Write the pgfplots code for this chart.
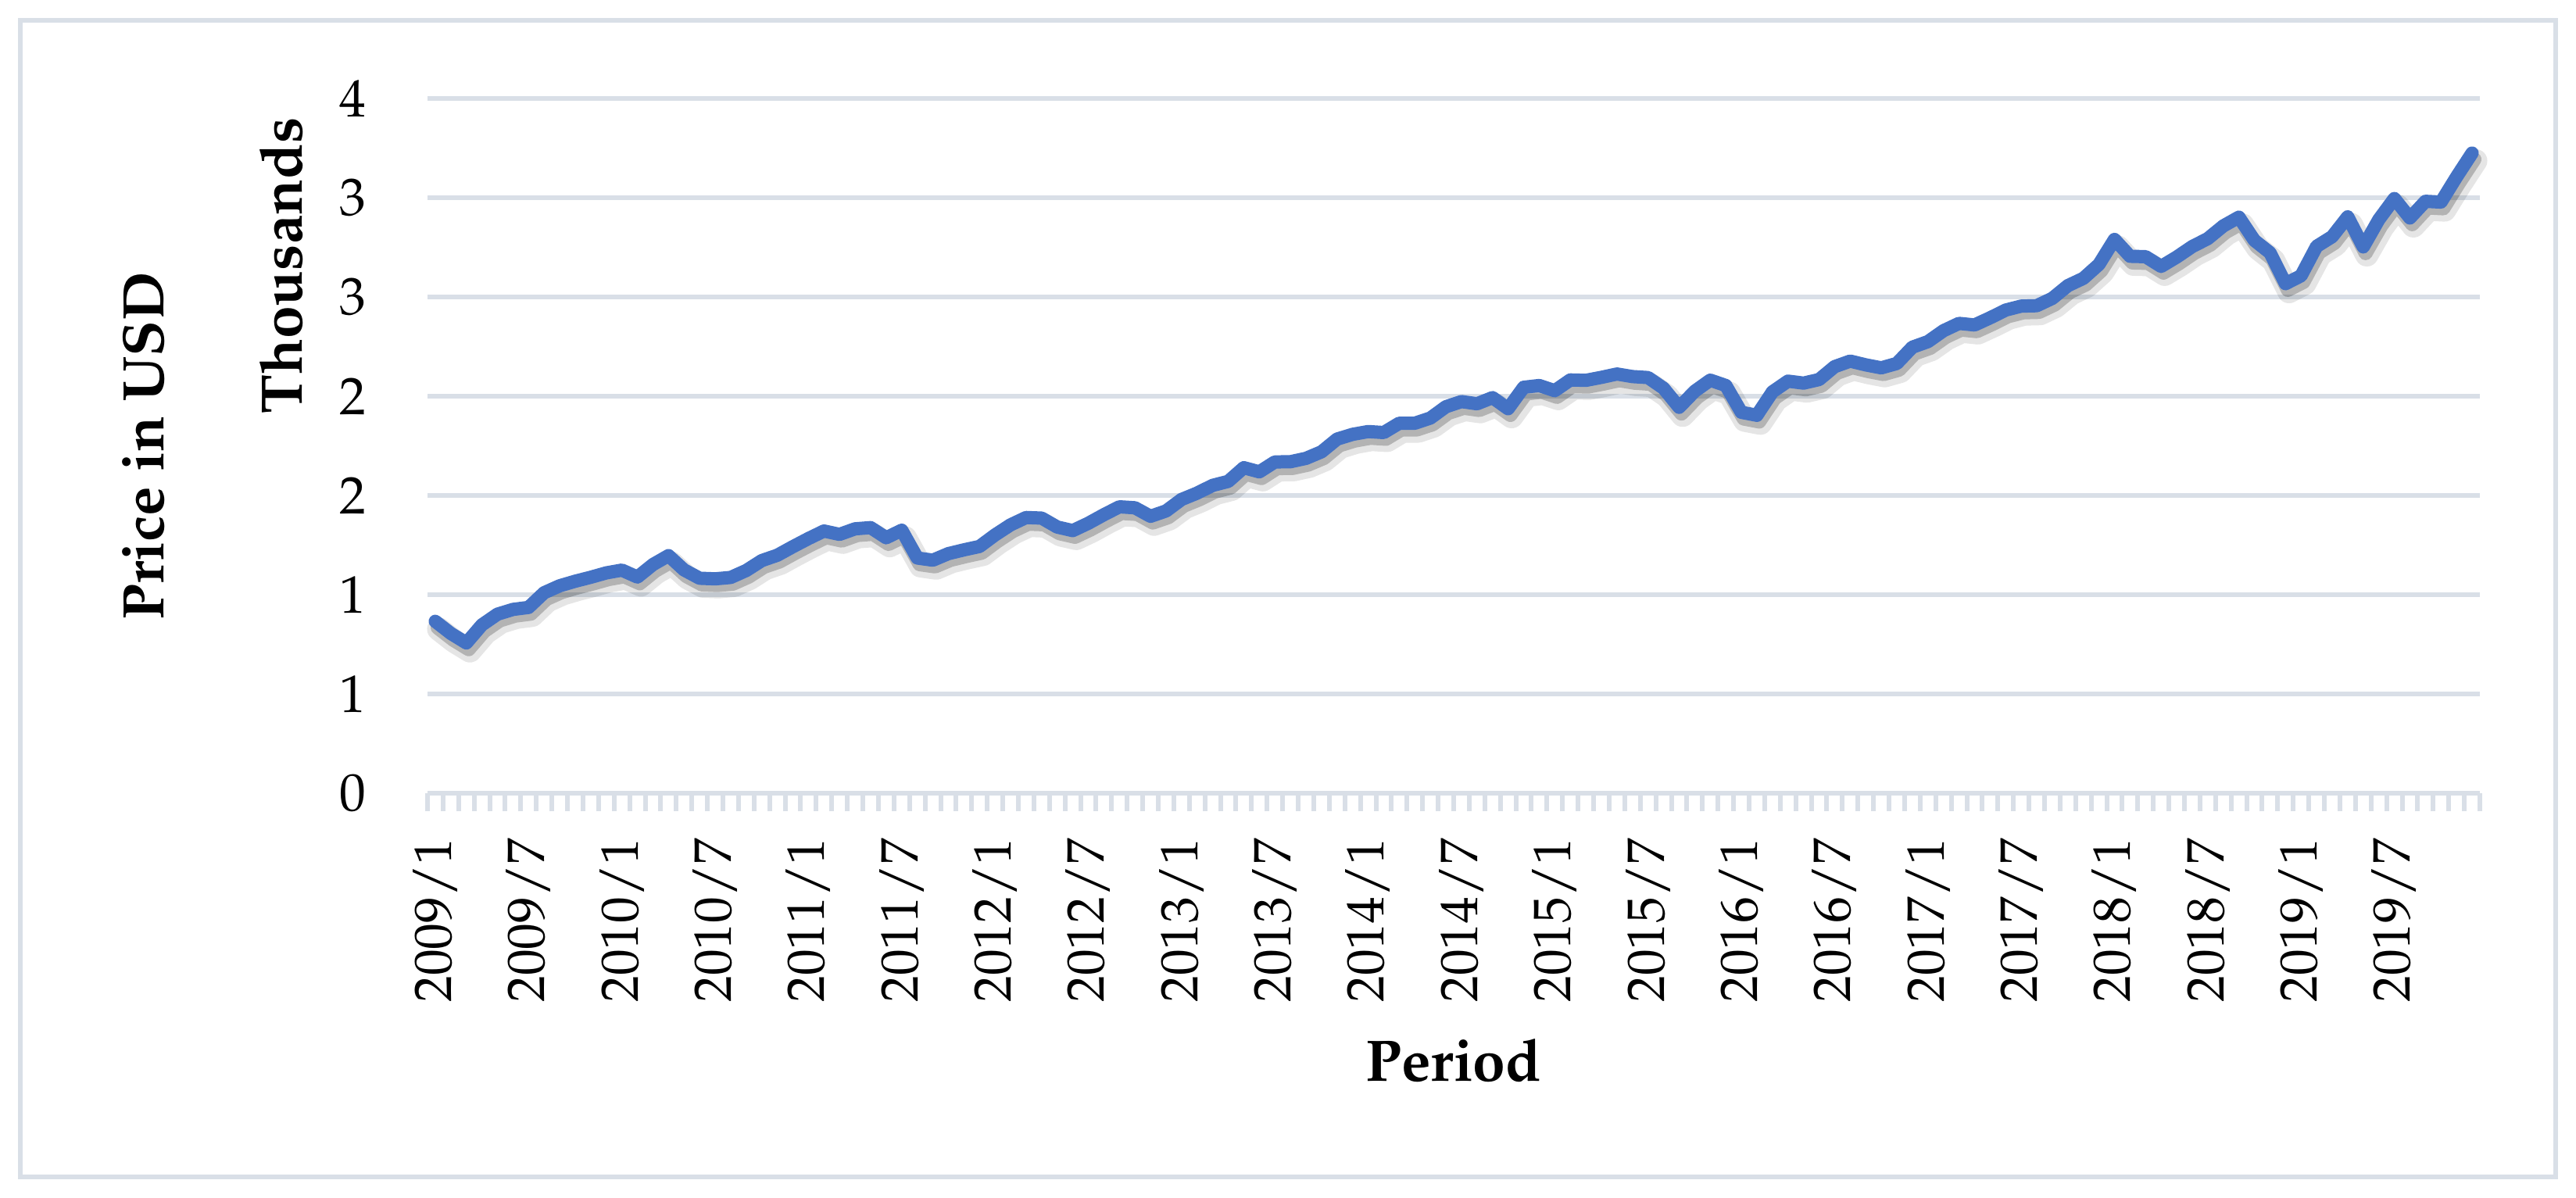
\documentclass[border=0pt]{standalone}
\usepackage[T1]{fontenc}
\usepackage{mathpazo}
\usepackage{pgfplots}
\usepackage{pgfplotstable}
\pgfplotsset{compat=1.18}
\definecolor{gridc}{RGB}{217,223,231}
\definecolor{lineblue}{RGB}{68,114,196}
\pgfplotstableread{
i v
0 0.866
1 0.805
2 0.757
3 0.848
4 0.902
5 0.926
6 0.936
7 1.010
8 1.045
9 1.068
10 1.088
11 1.110
12 1.124
13 1.089
14 1.152
15 1.197
16 1.125
17 1.083
18 1.080
19 1.087
20 1.122
21 1.172
22 1.199
23 1.242
24 1.283
25 1.321
26 1.304
27 1.332
28 1.338
29 1.287
30 1.325
31 1.185
32 1.174
33 1.207
34 1.226
35 1.243
36 1.301
37 1.352
38 1.389
39 1.386
40 1.341
41 1.323
42 1.360
43 1.403
44 1.443
45 1.438
46 1.395
47 1.422
48 1.480
49 1.512
50 1.551
51 1.571
52 1.640
53 1.619
54 1.669
55 1.670
56 1.687
57 1.720
58 1.784
59 1.808
60 1.822
61 1.817
62 1.864
63 1.864
64 1.890
65 1.947
66 1.973
67 1.962
68 1.993
69 1.937
70 2.045
71 2.054
72 2.028
73 2.082
74 2.080
75 2.095
76 2.112
77 2.099
78 2.094
79 2.040
80 1.944
81 2.025
82 2.081
83 2.054
84 1.919
85 1.904
86 2.022
87 2.076
88 2.066
89 2.084
90 2.149
91 2.177
92 2.158
93 2.143
94 2.165
95 2.247
96 2.275
97 2.330
98 2.367
99 2.359
100 2.395
101 2.434
102 2.454
103 2.456
104 2.493
105 2.557
106 2.594
107 2.664
108 2.790
109 2.705
110 2.703
111 2.654
112 2.701
113 2.754
114 2.794
115 2.858
116 2.902
117 2.785
118 2.723
119 2.567
120 2.607
121 2.755
122 2.804
123 2.904
124 2.752
125 2.890
126 2.996
127 2.898
128 2.982
129 2.978
130 3.105
131 3.225
}\spdata
\begin{document}
\begin{tikzpicture}
\useasboundingbox (0,0) rectangle (659.2pt,306.4pt);
\draw[gridc, line width=1.2pt] (5.2pt,5.2pt) rectangle (654pt,301.2pt);
\begin{axis}[
  at={(109.4pt,103.4pt)}, anchor=south west,
  scale only axis, width=525.2pt, height=177.8pt,
  xmin=-0.5, xmax=131.5, ymin=0, ymax=3.5,
  axis line style={draw=none},
  clip=false,
  ytick={0,0.5,1,1.5,2,2.5,3,3.5},
  yticklabels={0,1,1,2,2,3,3,4},
  ymajorgrids,
  major grid style={gridc, line width=1.05pt},
  xtick={0,6,...,126},
  xticklabels={2009/1,2009/7,2010/1,2010/7,2011/1,2011/7,2012/1,2012/7,2013/1,2013/7,2014/1,2014/7,2015/1,2015/7,2016/1,2016/7,2017/1,2017/7,2018/1,2018/7,2019/1,2019/7},
  minor xtick={-0.5,0.5,...,131.5},
  major tick length=0pt,
  minor tick length=4.6pt,
  tick align=outside,
  xtick pos=bottom,
  ytick pos=left,
  minor tick style={gridc, line width=1.2pt},
  xticklabel style={rotate=90, anchor=east, inner sep=0pt, font=\fontsize{13.5}{16}\selectfont},
  xticklabel shift=11.4pt,
  yticklabel style={anchor=east, inner sep=0pt, font=\fontsize{13.5}{16}\selectfont},
  yticklabel shift=15.5pt,
]
\addplot[no marks, draw=black, opacity=0.10, line width=6pt, line join=round, line cap=round, xshift=0.9pt, yshift=-2.0pt] table[x=i,y=v]{\spdata};
\addplot[no marks, draw=black, opacity=0.22, line width=3.6pt, line join=round, line cap=round, xshift=0.6pt, yshift=-1.6pt] table[x=i,y=v]{\spdata};
\addplot[no marks, draw=lineblue, line width=3.4pt, line join=round, line cap=round] table[x=i,y=v]{\spdata};
\node[rotate=90, inner sep=0pt, font=\bfseries\fontsize{15}{18}\selectfont] at (axis description cs:-0.1382,0.5) {Price in USD};
\node[rotate=90, inner sep=0pt, font=\bfseries\fontsize{15}{18}\selectfont] at (axis description cs:-0.0712,0.7593) {Thousands};
\node[inner sep=0pt, font=\bfseries\fontsize{15}{18}\selectfont] at (axis description cs:0.5,-0.3847) {Period};
\end{axis}
\end{tikzpicture}
\end{document}
